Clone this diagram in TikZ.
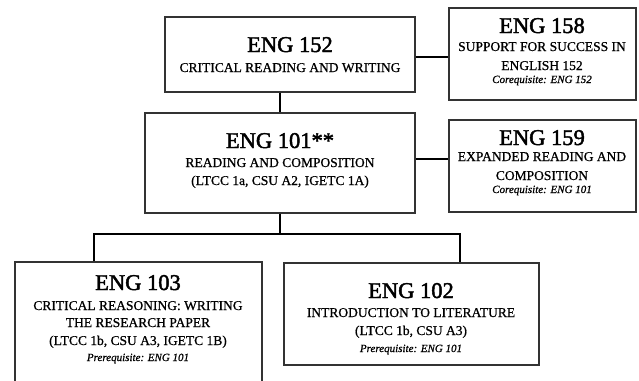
\documentclass[tikz,border=0pt]{standalone}
\usepackage{fontspec}
\setmainfont{Liberation Serif}
\newfontfamily\ttlfont[FakeBold=2]{Liberation Serif}
\newfontfamily\subfont[FakeBold=0.8]{Liberation Serif}
\newfontfamily\reqfont[ItalicFeatures={FakeBold=0.8}]{Liberation Serif}
\begin{document}
\begin{tikzpicture}[x=1pt,y=-1pt,
  box/.style={draw=black!80,line width=1.3pt,fill=white,inner sep=0pt},
  conn/.style={draw=black,line width=2.8pt},
  ttl/.style={anchor=base,inner sep=0pt,font=\ttlfont\fontsize{22.5}{22.5}\selectfont},
  sub/.style={anchor=base,inner sep=0pt,font=\subfont\fontsize{13.5}{13.5}\selectfont},
  req/.style={anchor=base,inner sep=0pt,font=\reqfont\fontsize{11}{11}\selectfont\itshape}]
\useasboundingbox (0,0) rectangle (639,380);
\clip (0,0) rectangle (639,380);
\fill[white] (0,0) rectangle (639,380);
% boxes
\node[box,minimum width=250pt,minimum height=75pt] (b152) at (290,54.5) {};
\node[box,minimum width=187pt,minimum height=92pt] (b158) at (542.5,54) {};
\node[box,minimum width=270pt,minimum height=100pt] (b101) at (280,163) {};
\node[box,minimum width=187pt,minimum height=92pt] (b159) at (542.5,166) {};
\node[box,minimum width=247pt,minimum height=125pt] (b103) at (138.5,324.5) {};
\node[box,minimum width=255pt,minimum height=102pt] (b102) at (411.5,314) {};
% connectors
\coordinate (j) at (280,234);
\draw[conn] (b152.east |- 0,57) -- (b158.west |- 0,57);
\draw[conn] (b152.south -| j) -- (b101.north -| j);
\draw[conn] (b101.east |- 0,159) -- (b159.west |- 0,159);
\draw[conn] (b101.south -| j) -- (j);
\draw[conn] (b103.north -| 94,0) |- (j) -| (b102.north -| 460,0);
% texts
\node[ttl] (t152) at (290,52) {ENG 152};
\node[sub] (s152) at (290,72) {CRITICAL READING AND WRITING};
\node[ttl] (t158) at (542,33) {ENG 158};
\node[sub] (s158a) at (542,51) {SUPPORT FOR SUCCESS IN};
\node[sub] (s158b) at (542,70) {ENGLISH 152};
\node[req] (r158) at (542,83) {Corequisite: ENG 152};
\node[ttl] (t101) at (280,148) {ENG 101**};
\node[sub] (s101a) at (280,167) {READING AND COMPOSITION};
\node[sub] (s101b) at (280,185) {(LTCC 1a, CSU A2, IGETC 1A)};
\node[ttl] (t159) at (542,145) {ENG 159};
\node[sub] (s159a) at (542,161) {EXPANDED READING AND};
\node[sub] (s159b) at (542,180) {COMPOSITION};
\node[req] (r159) at (542,193) {Corequisite: ENG 101};
\node[ttl] (t103) at (138,290) {ENG 103};
\node[sub] (s103a) at (138,310) {CRITICAL REASONING: WRITING};
\node[sub] (s103b) at (138,327) {THE RESEARCH PAPER};
\node[sub] (s103c) at (138,345) {(LTCC 1b, CSU A3, IGETC 1B)};
\node[req] (r103) at (138,361) {Prerequisite: ENG 101};
\node[ttl] (t102) at (411,298) {ENG 102};
\node[sub] (s102a) at (411,317) {INTRODUCTION TO LITERATURE};
\node[sub] (s102b) at (411,335) {(LTCC 1b, CSU A3)};
\node[req] (r102) at (411,352) {Prerequisite: ENG 101};
\end{tikzpicture}
\end{document}
